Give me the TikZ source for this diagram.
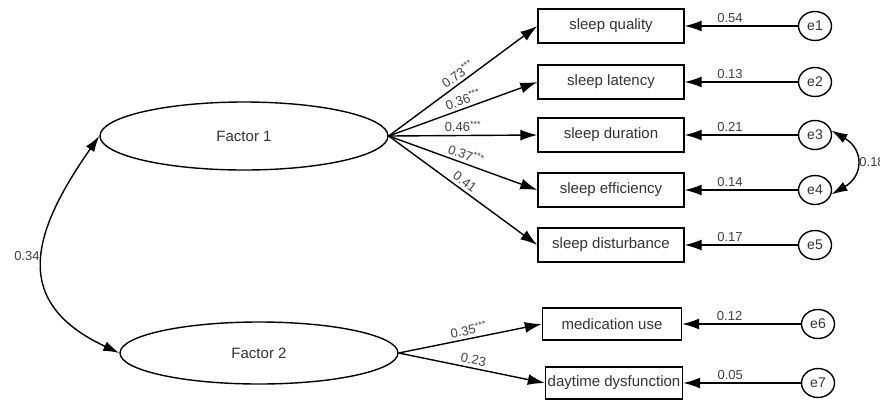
\documentclass[tikz,border=0pt]{standalone}
\usepackage{fontspec}
\setmainfont{Liberation Sans}
\usetikzlibrary{arrows.meta,shapes.geometric}

\begin{document}
\begin{tikzpicture}[x=1pt,y=1pt,
  var/.style={draw,line width=1.4pt,minimum width=146pt,minimum height=34pt,
    inner sep=1pt,text=black!80,font=\fontsize{15}{18}\selectfont},
  latent/.style={draw,ellipse,line width=1.4pt,minimum width=288pt,minimum height=68pt,
    text=black!80,font=\fontsize{15}{18}\selectfont},
  err/.style={draw,ellipse,line width=1.4pt,minimum width=33pt,minimum height=29pt,
    inner sep=0pt,text=black!80,font=\fontsize{14}{16}\selectfont},
  path/.style={line width=1.4pt,-{Latex[length=17pt,width=11pt]}},
  cov/.style={line width=1.4pt,{Latex[length=16pt,width=10pt]}-{Latex[length=16pt,width=10pt]}},
  lab/.style={font=\fontsize{13}{15}\selectfont,text=black!75,inner sep=3pt}]
  \useasboundingbox (0,0) rectangle (880,-400);

  % latent factors
  \node[latent] (f1) at (244,-136) {Factor 1};
  \node[latent,minimum width=278pt,minimum height=62pt] (f2) at (259,-353) {Factor 2};

  % observed items
  \node[var] (sq) at (611,-26) {sleep quality};
  \node[var] (sl) at (611,-82) {sleep latency};
  \node[var] (sd) at (611,-135) {sleep duration};
  \node[var] (se) at (611,-190) {sleep efficiency};
  \node[var] (sb) at (611,-245) {sleep disturbance};
  \node[var,minimum width=139pt,minimum height=32pt] (mu) at (612,-324) {medication use};
  \node[var,minimum width=137pt,minimum height=32pt] (dd) at (614,-383) {daytime dysfunction};

  % errors
  \node[err] (e1) at (815,-26) {e1};
  \node[err] (e2) at (815,-82) {e2};
  \node[err] (e3) at (815,-135) {e3};
  \node[err] (e4) at (815,-190) {e4};
  \node[err] (e5) at (815,-245) {e5};
  \node[err] (e6) at (818,-324) {e6};
  \node[err] (e7) at (818,-383) {e7};

  % loadings
  \draw[path] (f1.east) -- node[lab,sloped,above,pos=.5] {0.73\textsuperscript{***}} (sq.west);
  \draw[path] (f1.east) -- node[lab,sloped,above,pos=.52] {0.36\textsuperscript{***}} (sl.west);
  \draw[path] (f1.east) -- node[lab,sloped,above,pos=.5] {0.46\textsuperscript{***}} (sd.west);
  \draw[path] (f1.east) -- node[lab,sloped,above,pos=.5] {0.37\textsuperscript{***}} (se.west);
  \draw[path] (f1.east) -- node[lab,sloped,above,pos=.48] {0.41} (sb.west);
  \draw[path] (f2.east) -- node[lab,sloped,above,pos=.5] {0.35\textsuperscript{***}} (mu.west);
  \draw[path] (f2.east) -- node[lab,sloped,above,pos=.5] {0.23} (dd.west);

  % error paths
  \draw[path] (e1.west) -- node[lab,above,pos=.6] {0.54} (sq.east);
  \draw[path] (e2.west) -- node[lab,above,pos=.6] {0.13} (sl.east);
  \draw[path] (e3.west) -- node[lab,above,pos=.6] {0.21} (sd.east);
  \draw[path] (e4.west) -- node[lab,above,pos=.6] {0.14} (se.east);
  \draw[path] (e5.west) -- node[lab,above,pos=.6] {0.17} (sb.east);
  \draw[path] (e6.west) -- node[lab,above,pos=.6] {0.12} (mu.east);
  \draw[path] (e7.west) -- node[lab,above,pos=.6] {0.05} (dd.east);

  % covariances
  \draw[cov] (f1.west) to[out=235,in=155,looseness=1.4] node[lab,left,pos=.47] {0.34} (f2.west);
  \draw[cov] (e3.15) to[out=-30,in=30,looseness=1.5] node[lab,right] {0.18} (e4.-15);
\end{tikzpicture}
\end{document}
